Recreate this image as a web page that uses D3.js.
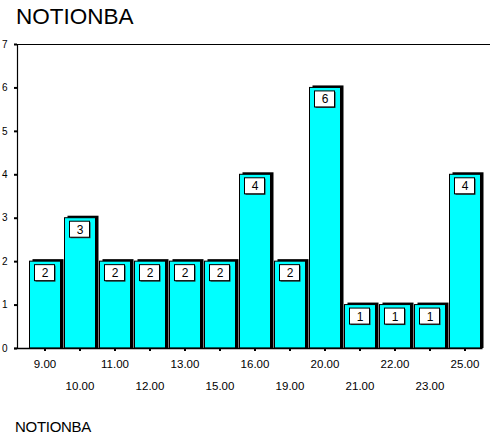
<!DOCTYPE html>
<html>
<head>
<meta charset="utf-8">
<script src="https://cdn.jsdelivr.net/npm/d3@7"></script>
<style>
  body { margin: 0; background: #fff; }
  svg { display: block; font-family: "Liberation Sans", Arial, sans-serif; }
</style>
</head>
<body>
<div id="chart"></div>
<script>
// Data
const categories = ["9.00", "10.00", "11.00", "12.00", "13.00", "15.00", "16.00",
                    "19.00", "20.00", "21.00", "22.00", "23.00", "25.00"];
const counts = [2, 3, 2, 2, 2, 2, 4, 2, 6, 1, 1, 1, 4];
const yTicks = [0, 1, 2, 3, 4, 5, 6, 7];

const W = 490, H = 436;
const axisX = 17, plotTop = 44, plotBottom = 348;

const svg = d3.select("#chart").append("svg")
    .attr("width", W)
    .attr("height", H);

const x = d3.scaleBand()
    .domain(categories)
    .range([27.5, 27.5 + 35 * categories.length])
    .paddingInner(0)
    .paddingOuter(0);

const y = d3.scaleLinear()
    .domain([0, 7])
    .range([plotBottom, plotTop]);

// Title
svg.append("text")
    .attr("x", 16).attr("y", 24)
    .attr("font-size", 22.5)
    .text("NOTIONBA");

// top frame line
svg.append("line")
    .attr("x1", axisX).attr("x2", W)
    .attr("y1", plotTop + 0.5).attr("y2", plotTop + 0.5)
    .attr("stroke", "#000").attr("stroke-width", 1);

// bars: black shadow offset up/right, then cyan bar
const barW = 31;
const bars = svg.append("g").selectAll("g")
    .data(categories.map((c, i) => ({c, v: counts[i]})))
    .join("g");

bars.append("rect")
    .attr("x", d => x(d.c) + 2 + 3)
    .attr("y", d => y(d.v) - 2)
    .attr("width", barW)
    .attr("height", d => plotBottom - y(d.v) + 2)
    .attr("fill", "#000");

bars.append("rect")
    .attr("x", d => x(d.c) + 2)
    .attr("y", d => y(d.v))
    .attr("width", barW)
    .attr("height", d => plotBottom - y(d.v))
    .attr("fill", "#00ffff")
    .attr("stroke", "#000")
    .attr("stroke-width", 1);

// value label boxes
const boxW = 20, boxH = 16;
bars.append("rect")
    .attr("x", d => x(d.c) + x.bandwidth() / 2 - boxW / 2 - 0.5 + 1)
    .attr("y", d => y(d.v) + 4.5)
    .attr("width", boxW)
    .attr("height", boxH)
    .attr("fill", "#333");
bars.append("rect")
    .attr("x", d => x(d.c) + x.bandwidth() / 2 - boxW / 2 - 0.5)
    .attr("y", d => y(d.v) + 3.5)
    .attr("width", boxW)
    .attr("height", boxH)
    .attr("fill", "#fff")
    .attr("stroke", "#000")
    .attr("stroke-width", 1);
bars.append("text")
    .attr("x", d => x(d.c) + x.bandwidth() / 2)
    .attr("y", d => y(d.v) + 16)
    .attr("text-anchor", "middle")
    .attr("font-size", 12)
    .text(d => d.v);

// y axis
const yAxis = svg.append("g")
    .attr("transform", `translate(${axisX},0)`)
    .call(d3.axisLeft(y).tickValues(yTicks).tickFormat(d3.format("d"))
        .tickSize(3).tickPadding(6));
yAxis.select(".domain").attr("stroke", "#000").attr("stroke-width", 1.2);
yAxis.selectAll(".tick line").attr("stroke-width", 2);
yAxis.selectAll(".tick text")
    .attr("font-size", 10)
    .attr("font-family", "Liberation Sans, Arial, sans-serif")
    .attr("x", -15)
    .attr("text-anchor", "start");

// x axis
const xAxis = svg.append("g")
    .attr("transform", `translate(0,${plotBottom})`)
    .call(d3.axisBottom(x).tickSize(3).tickSizeOuter(0).tickPadding(4));
xAxis.select(".domain").attr("d", `M${axisX - 3},0.5H${x.range()[1]}`)
    .attr("stroke", "#000").attr("stroke-width", 1.5);
xAxis.selectAll(".tick line").attr("stroke-width", 2);
xAxis.selectAll(".tick text")
    .attr("font-size", 11.5)
    .attr("font-family", "Liberation Sans, Arial, sans-serif")
    .attr("dy", 0)
    .attr("y", (d, i) => i % 2 === 0 ? 20 : 42);

// footer
svg.append("text")
    .attr("x", 15).attr("y", 432)
    .attr("font-size", 15)
    .attr("letter-spacing", -0.3)
    .text("NOTIONBA");
</script>
</body>
</html>
